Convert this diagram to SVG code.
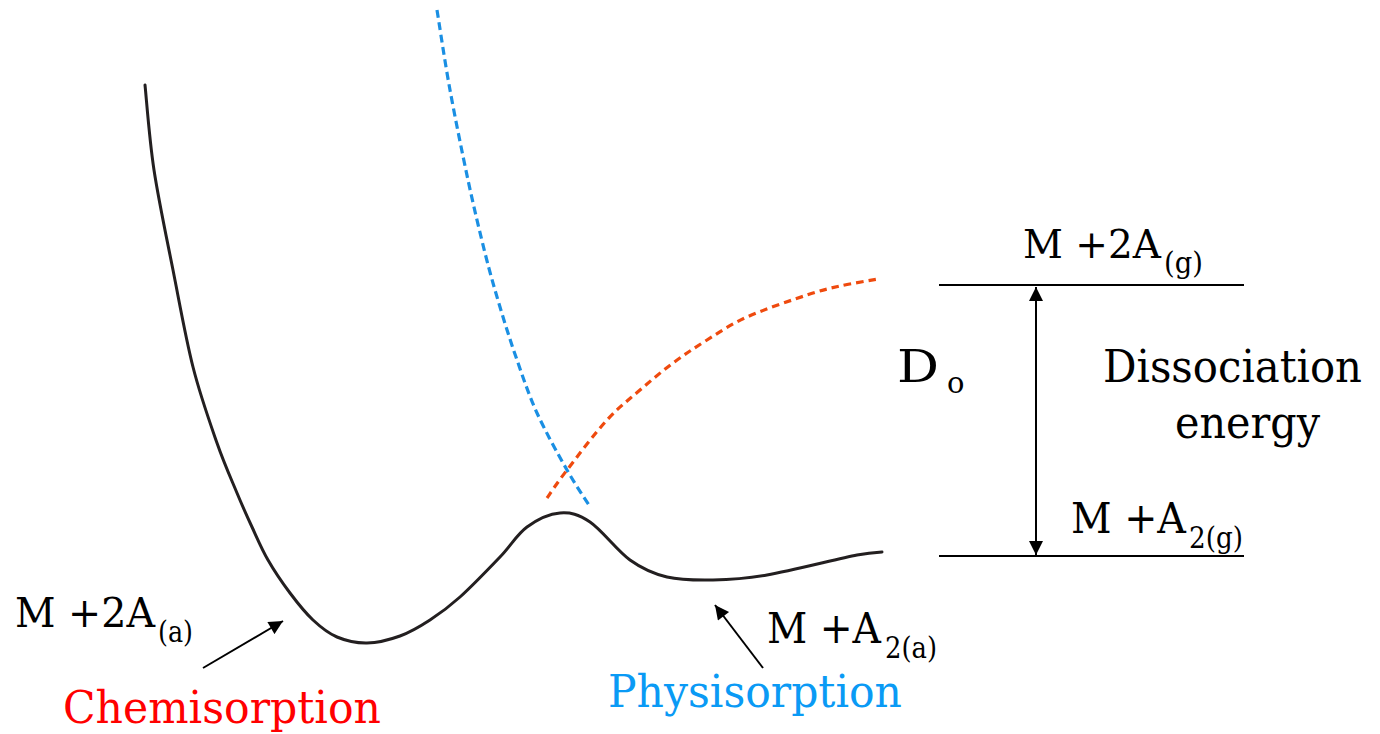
<svg xmlns="http://www.w3.org/2000/svg" width="1380" height="734" viewBox="0 0 1380 734">
<defs>
<style>
text{font-family:'DejaVu Serif',serif;fill:#000}
.curve{fill:none;stroke:#231f20;stroke-width:3;stroke-linecap:round;stroke-linejoin:round}
.blue{fill:none;stroke:#1a8fe3;stroke-width:3.2;stroke-dasharray:8 4.5}
.red{fill:none;stroke:#ef4a0e;stroke-width:3.2;stroke-dasharray:7.5 5}
.ln{stroke:#000;stroke-width:2;fill:none}
.arr{stroke:#000;stroke-width:2;fill:none}
</style>
<marker id="ah" viewBox="0 0 10 10" refX="10" refY="5" markerUnits="userSpaceOnUse" markerWidth="16" markerHeight="14" orient="auto-start-reverse">
<path d="M0,0 L10,5 L0,10 z" fill="#000"/>
</marker>
</defs>
<rect width="1380" height="734" fill="#fff"/>

<g id="energy-curve">
<path class="curve" d="M145,85 C146.5,99.2 149.3,139.2 154,170 C158.7,200.8 166.5,237.2 173,270 C179.5,302.8 185.7,338.2 193,367 C200.3,395.8 209.7,422 217,443 C224.3,464 231.2,479 237,493 C242.8,507 246.8,515.8 252,527 C257.2,538.2 261.7,549 268,560 C274.3,571 282.5,583 290,593 C297.5,603 305.2,612.7 313,620 C320.8,627.3 328,633.2 337,637 C346,640.8 356.5,643.2 367,643 C377.5,642.8 389.5,639.8 400,636 C410.5,632.2 420,626.5 430,620 C440,613.5 448.3,607.5 460,597 C471.7,586.5 488.8,568.7 500,557 C511.2,545.3 517,534.3 527,527 C537,519.7 549.5,513.8 560,513 C570.5,512.2 578.3,514.2 590,522 C601.7,529.8 617.2,550.8 630,560 C642.8,569.2 653.2,573.7 667,577 C680.8,580.3 696.3,580.3 713,580 C729.7,579.7 743,579.2 767,575 C791,570.8 837.8,558.8 857,555 C865,553.5 874,552.5 882,552"/>
</g>

<g id="physisorption-curve">
<path class="blue" d="M437,10 C439.2,23.3 444.8,61.7 450,90 C455.2,118.3 462.2,152.8 468,180 C473.8,207.2 479.7,231.8 485,253 C490.3,274.2 494.7,289.2 500,307 C505.3,324.8 510.8,342.3 517,360 C523.2,377.7 528.7,394.7 537,413 C545.3,431.3 558.3,454.7 567,470 C575.7,485.3 585.3,499.2 589,505"/>
</g>

<g id="chemisorption-curve">
<path class="red" d="M547,498 C550.3,493.3 557,483 567,470 C577,457 594.8,433.3 607,420 C619.2,406.7 629,399.5 640,390 C651,380.5 661.8,371.3 673,363 C684.2,354.7 694.7,347.7 707,340 C719.3,332.3 730.3,324.5 747,317 C763.7,309.5 791.5,300.2 807,295 C822.5,289.8 828.2,288.7 840,286 C851.8,283.3 871.7,280.2 878,279"/>
</g>

<g id="levels">
<line class="ln" x1="939" y1="285" x2="1244" y2="285"/>
<line class="ln" x1="939" y1="556" x2="1244" y2="556"/>
</g>

<g id="connectors">
<line class="arr" x1="1036" y1="287" x2="1036" y2="555" marker-start="url(#ah)" marker-end="url(#ah)"/>
<line class="arr" x1="203" y1="668" x2="283" y2="621" marker-end="url(#ah)"/>
<line class="arr" x1="763" y1="668" x2="715" y2="605" marker-end="url(#ah)"/>
</g>

<g id="label-top">
<text x="1023" y="258" font-size="40" textLength="138" lengthAdjust="spacingAndGlyphs">M +2A</text>
<text x="1164" y="273" font-size="29" textLength="39" lengthAdjust="spacingAndGlyphs">(g)</text>
</g>

<g id="label-bottom-right">
<text x="1071" y="533" font-size="42" textLength="115" lengthAdjust="spacingAndGlyphs">M +A</text>
<text x="1189" y="548" font-size="29" textLength="54" lengthAdjust="spacingAndGlyphs">2(g)</text>
</g>

<g id="label-do">
<text x="897" y="382" font-size="45" textLength="42" lengthAdjust="spacingAndGlyphs">D</text>
<text x="947" y="393" font-size="29">o</text>
</g>

<g id="label-dissociation">
<text x="1103" y="382" font-size="44" textLength="259" lengthAdjust="spacingAndGlyphs">Dissociation</text>
<text x="1175" y="438" font-size="45" textLength="145" lengthAdjust="spacingAndGlyphs">energy</text>
</g>

<g id="label-2a-a">
<text x="15" y="627" font-size="41" textLength="140" lengthAdjust="spacingAndGlyphs">M +2A</text>
<text x="158" y="642" font-size="29" textLength="35" lengthAdjust="spacingAndGlyphs">(a)</text>
</g>

<g id="label-a2-a">
<text x="767" y="643" font-size="42" textLength="114" lengthAdjust="spacingAndGlyphs">M +A</text>
<text x="885" y="658" font-size="29" textLength="52" lengthAdjust="spacingAndGlyphs">2(a)</text>
</g>

<g id="label-chemisorption">
<text x="63" y="723" font-size="45" fill="#ff0000" style="fill:#ff0000" textLength="318" lengthAdjust="spacingAndGlyphs">Chemisorption</text>
</g>

<g id="label-physisorption">
<text x="608" y="707" font-size="45" fill="#0a9af5" style="fill:#0a9af5" textLength="294" lengthAdjust="spacingAndGlyphs">Physisorption</text>
</g>
</svg>
